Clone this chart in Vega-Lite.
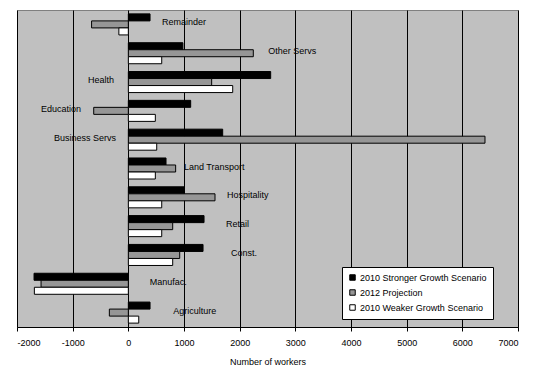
{
  "$schema": "https://vega.github.io/schema/vega-lite/v6.json",
  "width": 501,
  "height": 317,
  "autosize": {"type": "none"},
  "padding": {"left": 17, "top": 10, "right": 42, "bottom": 45},
  "background": "white",
  "config": {
    "view": {"fill": "#c0c0c0", "stroke": "#808080", "strokeWidth": 1},
    "font": "Liberation Sans"
  },
  "datasets": {
    "bars": [
      {"sector": "Remainder", "series": "2010 Stronger Growth Scenario", "value": 390},
      {"sector": "Remainder", "series": "2012 Projection", "value": -660},
      {"sector": "Remainder", "series": "2010 Weaker Growth Scenario", "value": -170},
      {"sector": "Other Servs", "series": "2010 Stronger Growth Scenario", "value": 980},
      {"sector": "Other Servs", "series": "2012 Projection", "value": 2245},
      {"sector": "Other Servs", "series": "2010 Weaker Growth Scenario", "value": 600},
      {"sector": "Health", "series": "2010 Stronger Growth Scenario", "value": 2557},
      {"sector": "Health", "series": "2012 Projection", "value": 1497},
      {"sector": "Health", "series": "2010 Weaker Growth Scenario", "value": 1875},
      {"sector": "Education", "series": "2010 Stronger Growth Scenario", "value": 1120},
      {"sector": "Education", "series": "2012 Projection", "value": -622},
      {"sector": "Education", "series": "2010 Weaker Growth Scenario", "value": 485},
      {"sector": "Business Servs", "series": "2010 Stronger Growth Scenario", "value": 1695},
      {"sector": "Business Servs", "series": "2012 Projection", "value": 6407},
      {"sector": "Business Servs", "series": "2010 Weaker Growth Scenario", "value": 510},
      {"sector": "Land Transport", "series": "2010 Stronger Growth Scenario", "value": 677},
      {"sector": "Land Transport", "series": "2012 Projection", "value": 850},
      {"sector": "Land Transport", "series": "2010 Weaker Growth Scenario", "value": 485},
      {"sector": "Hospitality", "series": "2010 Stronger Growth Scenario", "value": 1005},
      {"sector": "Hospitality", "series": "2012 Projection", "value": 1557},
      {"sector": "Hospitality", "series": "2010 Weaker Growth Scenario", "value": 600},
      {"sector": "Retail", "series": "2010 Stronger Growth Scenario", "value": 1360},
      {"sector": "Retail", "series": "2012 Projection", "value": 797},
      {"sector": "Retail", "series": "2010 Weaker Growth Scenario", "value": 600},
      {"sector": "Const.", "series": "2010 Stronger Growth Scenario", "value": 1342},
      {"sector": "Const.", "series": "2012 Projection", "value": 923},
      {"sector": "Const.", "series": "2010 Weaker Growth Scenario", "value": 797},
      {"sector": "Manufac.", "series": "2010 Stronger Growth Scenario", "value": -1694},
      {"sector": "Manufac.", "series": "2012 Projection", "value": -1568},
      {"sector": "Manufac.", "series": "2010 Weaker Growth Scenario", "value": -1688},
      {"sector": "Agriculture", "series": "2010 Stronger Growth Scenario", "value": 390},
      {"sector": "Agriculture", "series": "2012 Projection", "value": -341},
      {"sector": "Agriculture", "series": "2010 Weaker Growth Scenario", "value": 187}
    ],
    "labels": [
      {"sector": "Remainder", "labelAt": 605},
      {"sector": "Other Servs", "labelAt": 2513},
      {"sector": "Health", "labelAt": -723},
      {"sector": "Education", "labelAt": -1568},
      {"sector": "Business Servs", "labelAt": -1335},
      {"sector": "Land Transport", "labelAt": 1000},
      {"sector": "Hospitality", "labelAt": 1772},
      {"sector": "Retail", "labelAt": 1754},
      {"sector": "Const.", "labelAt": 1844},
      {"sector": "Manufac.", "labelAt": 384},
      {"sector": "Agriculture", "labelAt": 805}
    ]
  },
  "layer": [
    {
      "data": {"name": "bars"},
      "mark": {"type": "bar", "stroke": "black", "strokeWidth": 1},
      "encoding": {
        "y": {
          "field": "sector", "type": "nominal",
          "sort": ["Remainder", "Other Servs", "Health", "Education", "Business Servs", "Land Transport", "Hospitality", "Retail", "Const.", "Manufac.", "Agriculture"],
          "scale": {"paddingInner": 0.27, "paddingOuter": 0.135},
          "axis": null
        },
        "yOffset": {
          "field": "series", "type": "nominal",
          "sort": ["2010 Stronger Growth Scenario", "2012 Projection", "2010 Weaker Growth Scenario"],
          "scale": {"paddingInner": 0, "paddingOuter": 0}
        },
        "x": {
          "field": "value", "type": "quantitative",
          "scale": {"domain": [-2000, 7000], "nice": false},
          "axis": {
            "title": "Number of workers",
            "titleFont": "Liberation Sans", "titleFontSize": 9, "titleFontWeight": "normal", "titleColor": "black",
            "titlePadding": 10,
            "values": [-2000, -1000, 0, 1000, 2000, 3000, 4000, 5000, 6000, 7000],
            "labelExpr": "replace(format(datum.value, 'd'), '\u2212', '-')",
            "labelFont": "Liberation Sans", "labelFontSize": 9, "labelColor": "black", "labelPadding": 7,
            "domainColor": "black", "tickColor": "black", "tickSize": 4,
            "grid": true, "gridColor": "black", "gridWidth": 1
          }
        },
        "fill": {
          "field": "series", "type": "nominal",
          "sort": ["2010 Stronger Growth Scenario", "2012 Projection", "2010 Weaker Growth Scenario"],
          "scale": {
            "domain": ["2010 Stronger Growth Scenario", "2012 Projection", "2010 Weaker Growth Scenario"],
            "range": ["black", "#969696", "white"]
          },
          "legend": {
            "title": null,
            "orient": "none",
            "legendX": 325,
            "legendY": 257,
            "fillColor": "white",
            "strokeColor": "black",
            "padding": 6,
            "symbolType": "square",
            "symbolSize": 30,
            "symbolStrokeColor": "black",
            "symbolStrokeWidth": 1,
            "labelFont": "Liberation Sans",
            "labelFontSize": 9,
            "labelColor": "black",
            "rowPadding": 4,
            "labelOffset": 3
          }
        }
      }
    },
    {
      "data": {"name": "labels"},
      "mark": {"type": "text", "align": "left", "baseline": "middle", "font": "Liberation Sans", "fontSize": 9, "color": "black", "dy": -2},
      "encoding": {
        "y": {
          "field": "sector", "type": "nominal",
          "sort": ["Remainder", "Other Servs", "Health", "Education", "Business Servs", "Land Transport", "Hospitality", "Retail", "Const.", "Manufac.", "Agriculture"]
        },
        "x": {"field": "labelAt", "type": "quantitative"},
        "text": {"field": "sector"}
      }
    }
  ]
}
